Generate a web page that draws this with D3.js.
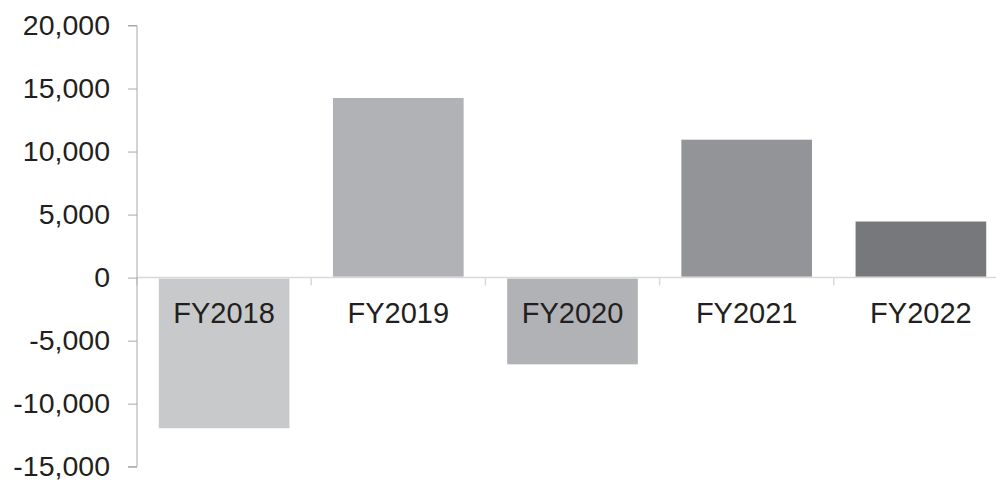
<!DOCTYPE html>
<html>
<head>
<meta charset="utf-8">
<script src="https://cdn.jsdelivr.net/npm/d3@7"></script>
<style>
  body { margin: 0; background: #fff; }
  text { font-family: "Liberation Sans", Arial, sans-serif; fill: #231f20; }
</style>
</head>
<body>
<svg></svg>
<script>
// chart size
var width = 996;
var height = 483;

// data
var years = ['FY2018', 'FY2019', 'FY2020', 'FY2021', 'FY2022'];
var values = [-11950, 14250, -6880, 10940, 4450];
var barColors = ['#c8c9cb', '#b1b2b5', '#b1b2b5', '#939498', '#77787c'];
var yTicks = [-15000, -10000, -5000, 0, 5000, 10000, 15000, 20000];

var left = 137;

var x = d3.scaleBand()
  .domain(years)
  .range([left, 1008])
  .paddingInner(0.25)
  .paddingOuter(0.125);

var y = d3.scaleLinear()
  .domain([-15000, 20000])
  .range([466.7, 25.5]);

var svg = d3.select('svg')
  .attr('width', width)
  .attr('height', height);

// zero line with category ticks
svg.append('line')
  .attr('x1', left).attr('x2', width)
  .attr('y1', y(0)).attr('y2', y(0))
  .attr('stroke', '#d9d9d9')
  .attr('stroke-width', 1.5);

svg.selectAll('.ctick')
  .data(years)
  .enter()
  .append('line')
    .attr('x1', d => x(d) - x.step() * 0.125)
    .attr('x2', d => x(d) - x.step() * 0.125)
    .attr('y1', y(0)).attr('y2', y(0) + 8)
    .attr('stroke', '#d9d9d9')
    .attr('stroke-width', 1.5);

// bars
svg.selectAll('rect')
  .data(years)
  .enter()
  .append('rect')
    .attr('x', d => x(d))
    .attr('width', x.bandwidth())
    .attr('y', (d, i) => values[i] > 0 ? y(values[i]) : y(0) + 1)
    .attr('height', (d, i) => values[i] > 0 ? y(0) - y(values[i]) - 1 : y(values[i]) - y(0) - 1)
    .attr('fill', (d, i) => barColors[i]);

// category labels
svg.selectAll('.clabel')
  .data(years)
  .enter()
  .append('text')
    .attr('x', d => x(d) + x.bandwidth() / 2)
    .attr('y', y(0) + 45)
    .attr('text-anchor', 'middle')
    .attr('font-size', '29px')
    .text(d => d);

// y axis (plain hyphen for negatives)
var fmt = d3.format(',');
var yAxis = d3.axisLeft(y)
  .tickValues(yTicks)
  .tickSize(9)
  .tickPadding(18)
  .tickFormat(d => fmt(d).replace('\u2212', '-'));

var gy = svg.append('g')
  .attr('transform', 'translate(' + left + ',0)')
  .call(yAxis);

gy.select('.domain')
  .attr('d', 'M-9,' + y(20000) + 'H0V' + y(-15000) + 'H-9')
  .attr('stroke', '#a7a8aa');
gy.selectAll('.tick line').attr('stroke', '#a7a8aa');
gy.selectAll('.tick text')
  .attr('font-size', '28.5px')
  .attr('font-family', '"Liberation Sans", Arial, sans-serif')
  .attr('fill', '#231f20');
</script>
</body>
</html>
